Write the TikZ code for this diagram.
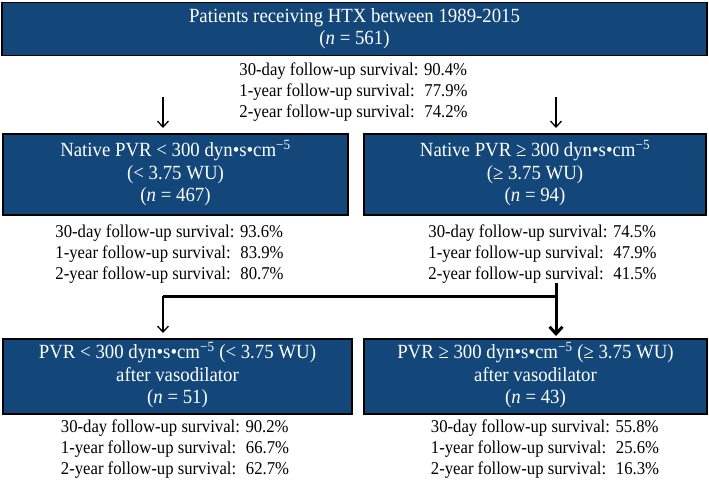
\documentclass[tikz,border=0pt]{standalone}
\usepackage{fontspec}
\usepackage{graphicx}
\setmainfont{Liberation Serif}
\usetikzlibrary{arrows.meta}
\definecolor{boxblue}{RGB}{19,71,122}
\newcommand{\bxtext}[2][0pt]{\raisebox{#1}{\scalebox{1}[1.07]{\begin{tabular}{@{}c@{}}#2\end{tabular}}}}
\newcommand{\sttext}[1]{\scalebox{1}[1.08]{\begin{tabular}{@{}l@{}}#1\end{tabular}}}
\begin{document}
\begin{tikzpicture}[x=1pt,y=-1pt,
  box/.style={draw=black, line width=1.5pt, fill=boxblue, text=white, align=center,
    inner sep=0pt, font=\fontsize{18.8}{21}\selectfont},
  stats/.style={inner sep=0pt, font=\fontsize{16.7}{19.5}\selectfont},
  thinarrow/.style={line width=1.3pt, -{Straight Barb[length=6pt,width=11pt]}},
  thickline/.style={line width=3pt},
  thickarrow/.style={line width=3pt, -{Straight Barb[length=7pt,width=13pt]}}]
\useasboundingbox (0,0) rectangle (709,482);

% boxes
\node[box, minimum width=705pt, minimum height=53pt] (top) at (354.5,29)
  {\bxtext[-3.5pt]{Patients receiving HTX between 1989-2015\\(\textit{n} = 561)}};
\node[box, minimum width=345pt, minimum height=81pt] (ml) at (175.5,174.5)
  {\bxtext[-2.5pt]{Native PVR < 300 dyn•s•cm\textsuperscript{−5}\\(< 3.75 WU)\\(\textit{n} = 467)}};
\node[box, minimum width=342pt, minimum height=81pt] (mr) at (535,174.5)
  {\bxtext[-2.5pt]{Native PVR ≥ 300 dyn•s•cm\textsuperscript{−5}\\(≥ 3.75 WU)\\(\textit{n} = 94)}};
\node[box, minimum width=349pt, minimum height=75pt] (bl) at (177.5,376.5)
  {\bxtext{PVR < 300 dyn•s•cm\textsuperscript{−5} (< 3.75 WU)\\after vasodilator\\(\textit{n} = 51)}};
\node[box, minimum width=343pt, minimum height=75pt] (br) at (535.5,376.5)
  {\bxtext{PVR ≥ 300 dyn•s•cm\textsuperscript{−5} (≥ 3.75 WU)\\after vasodilator\\(\textit{n} = 43)}};

% statistics
\node[stats] (st) at (353.5,92.5)
  {\sttext{30-day follow-up survival: 90.4\%\\1-year follow-up survival:~ 77.9\%\\2-year follow-up survival:~ 74.2\%}};
\node[stats] (sml) at (169.5,254)
  {\sttext{30-day follow-up survival: 93.6\%\\1-year follow-up survival:~ 83.9\%\\2-year follow-up survival:~ 80.7\%}};
\node[stats] (smr) at (542.5,254)
  {\sttext{30-day follow-up survival: 74.5\%\\1-year follow-up survival:~ 47.9\%\\2-year follow-up survival:~ 41.5\%}};
\node[stats] (sbl) at (175,449.5)
  {\sttext{30-day follow-up survival: 90.2\%\\1-year follow-up survival:~ 66.7\%\\2-year follow-up survival:~ 62.7\%}};
\node[stats] (sbr) at (545,449.5)
  {\sttext{30-day follow-up survival: 55.8\%\\1-year follow-up survival:~ 25.6\%\\2-year follow-up survival:~ 16.3\%}};

% connectors
\coordinate (a1s) at (163,97);
\coordinate (a1e) at (163,128);
\coordinate (a2s) at (556,97);
\coordinate (a2e) at (556,128);
\coordinate (stub) at (556,283);
\coordinate (jr) at (556,296);
\coordinate (jl) at (163,296);
\coordinate (ble) at (163,333);
\coordinate (bre) at (556,336);

\draw[thinarrow] (a1s) -- (a1e);
\draw[thinarrow] (a2s) -- (a2e);
\draw[thickline, line join=miter] (stub) -- (jr) -- (jl);
\draw[thinarrow] (jl) -- (ble);
\draw[thickarrow] (jr) -- (bre);
\end{tikzpicture}
\end{document}
